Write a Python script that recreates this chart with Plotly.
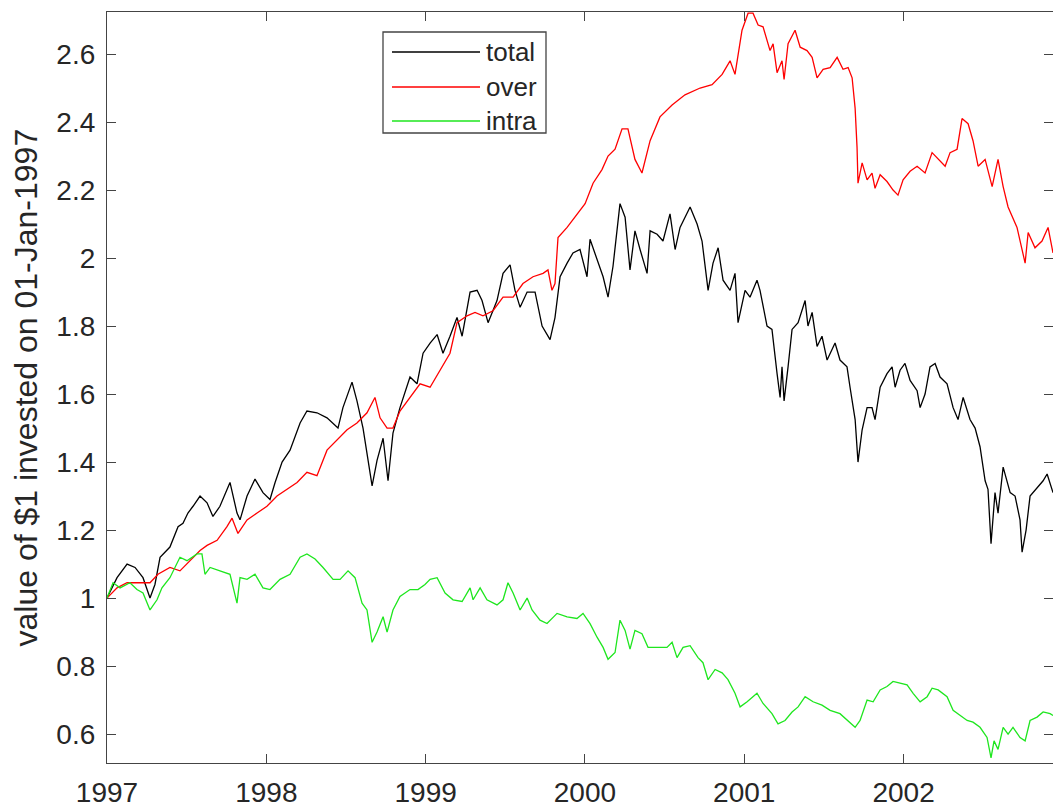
import plotly.graph_objects as go

# Growth of $1 invested on 01-Jan-1997: total, overnight and intraday returns.
# Time is given in decimal years.

total_t = [
    1997.000, 1997.063, 1997.126, 1997.176, 1997.226, 1997.270, 1997.301, 1997.333,
    1997.395, 1997.446, 1997.477, 1997.508, 1997.540, 1997.584, 1997.628, 1997.665,
    1997.709, 1997.772, 1997.816, 1997.835, 1997.879, 1997.929, 1997.979, 1998.023,
    1998.055, 1998.099, 1998.149, 1998.212, 1998.255, 1998.318, 1998.381, 1998.419,
    1998.450, 1998.481, 1998.538, 1998.569, 1998.607, 1998.664, 1998.695, 1998.733,
    1998.764, 1998.795, 1998.839, 1998.902, 1998.946, 1998.984, 1999.028, 1999.072,
    1999.109, 1999.153, 1999.197, 1999.229, 1999.279, 1999.323, 1999.354, 1999.392,
    1999.448, 1999.486, 1999.530, 1999.561, 1999.593, 1999.637, 1999.687, 1999.731,
    1999.781, 1999.812, 1999.844, 1999.888, 1999.925, 1999.969, 2000.013, 2000.032,
    2000.076, 2000.114, 2000.145, 2000.176, 2000.220, 2000.252, 2000.283, 2000.314,
    2000.346, 2000.390, 2000.409, 2000.453, 2000.490, 2000.534, 2000.566, 2000.597,
    2000.660, 2000.704, 2000.735, 2000.773, 2000.804, 2000.836, 2000.867, 2000.911,
    2000.942, 2000.961, 2001.005, 2001.036, 2001.080, 2001.099, 2001.143, 2001.174,
    2001.206, 2001.225, 2001.237, 2001.250, 2001.275, 2001.300, 2001.338, 2001.382,
    2001.400, 2001.426, 2001.457, 2001.488, 2001.520, 2001.570, 2001.601, 2001.645,
    2001.664, 2001.696, 2001.714, 2001.740, 2001.771, 2001.802, 2001.821, 2001.853,
    2001.896, 2001.928, 2001.947, 2001.978, 2002.009, 2002.041, 2002.085, 2002.104,
    2002.135, 2002.166, 2002.198, 2002.229, 2002.273, 2002.311, 2002.342, 2002.374,
    2002.417, 2002.449, 2002.480, 2002.512, 2002.530, 2002.549, 2002.574, 2002.593,
    2002.625, 2002.669, 2002.700, 2002.731, 2002.744, 2002.769, 2002.794, 2002.838,
    2002.876, 2002.901, 2002.938,
]
total_v = [
    1.00, 1.06, 1.10, 1.09, 1.06, 1.00, 1.04, 1.12,
    1.15, 1.21, 1.22, 1.25, 1.27, 1.30, 1.28, 1.24,
    1.27, 1.34, 1.25, 1.23, 1.30, 1.35, 1.31, 1.29,
    1.34, 1.40, 1.435, 1.515, 1.55, 1.545, 1.53, 1.515,
    1.50, 1.56, 1.635, 1.58, 1.50, 1.33, 1.405, 1.47,
    1.345, 1.485, 1.56, 1.65, 1.63, 1.72, 1.75, 1.775,
    1.72, 1.77, 1.825, 1.77, 1.90, 1.905, 1.875, 1.81,
    1.875, 1.955, 1.98, 1.905, 1.855, 1.90, 1.90, 1.80,
    1.76, 1.825, 1.945, 1.985, 2.015, 2.025, 1.945, 2.055,
    1.995, 1.945, 1.885, 1.975, 2.16, 2.12, 1.965, 2.08,
    2.025, 1.955, 2.08, 2.07, 2.05, 2.13, 2.025, 2.09,
    2.15, 2.10, 2.05, 1.905, 1.985, 2.03, 1.935, 1.905,
    1.955, 1.81, 1.905, 1.885, 1.935, 1.905, 1.80, 1.79,
    1.66, 1.59, 1.68, 1.58, 1.68, 1.79, 1.81, 1.875,
    1.80, 1.84, 1.74, 1.77, 1.70, 1.75, 1.70, 1.68,
    1.62, 1.525, 1.40, 1.495, 1.56, 1.56, 1.525, 1.62,
    1.66, 1.68, 1.62, 1.67, 1.69, 1.64, 1.61, 1.56,
    1.60, 1.68, 1.69, 1.65, 1.63, 1.56, 1.525, 1.59,
    1.525, 1.50, 1.445, 1.345, 1.32, 1.16, 1.31, 1.25,
    1.385, 1.31, 1.30, 1.23, 1.135, 1.20, 1.30, 1.325,
    1.345, 1.365, 1.31,
]

over_t = [
    1997.000, 1997.063, 1997.126, 1997.188, 1997.270, 1997.320, 1997.395, 1997.458,
    1997.521, 1997.584, 1997.628, 1997.691, 1997.753, 1997.785, 1997.822, 1997.879,
    1997.942, 1998.004, 1998.067, 1998.130, 1998.193, 1998.255, 1998.318, 1998.381,
    1998.444, 1998.507, 1998.569, 1998.632, 1998.682, 1998.714, 1998.758, 1998.795,
    1998.839, 1998.902, 1998.965, 1999.028, 1999.090, 1999.153, 1999.197, 1999.260,
    1999.310, 1999.360, 1999.423, 1999.486, 1999.549, 1999.611, 1999.674, 1999.737,
    1999.768, 1999.793, 1999.812, 1999.831, 1999.888, 1999.950, 2000.001, 2000.051,
    2000.107, 2000.145, 2000.189, 2000.233, 2000.270, 2000.314, 2000.358, 2000.409,
    2000.471, 2000.547, 2000.628, 2000.723, 2000.798, 2000.861, 2000.911, 2000.942,
    2000.986, 2001.024, 2001.055, 2001.087, 2001.118, 2001.162, 2001.181, 2001.206,
    2001.237, 2001.250, 2001.275, 2001.319, 2001.351, 2001.394, 2001.426, 2001.457,
    2001.495, 2001.539, 2001.583, 2001.620, 2001.652, 2001.677, 2001.696, 2001.708,
    2001.714, 2001.740, 2001.771, 2001.802, 2001.821, 2001.853, 2001.896, 2001.934,
    2001.965, 2001.997, 2002.041, 2002.085, 2002.135, 2002.179, 2002.217, 2002.261,
    2002.292, 2002.336, 2002.367, 2002.405, 2002.436, 2002.468, 2002.512, 2002.556,
    2002.593, 2002.625, 2002.656, 2002.712, 2002.763, 2002.782, 2002.825, 2002.869,
    2002.907, 2002.938,
]
over_v = [
    1.00, 1.03, 1.045, 1.045, 1.045, 1.07, 1.09, 1.08,
    1.11, 1.14, 1.155, 1.17, 1.21, 1.235, 1.19, 1.23,
    1.25, 1.27, 1.30, 1.32, 1.34, 1.37, 1.36, 1.435,
    1.465, 1.495, 1.515, 1.545, 1.59, 1.53, 1.50, 1.50,
    1.55, 1.59, 1.63, 1.62, 1.67, 1.72, 1.81, 1.83,
    1.84, 1.83, 1.845, 1.885, 1.885, 1.925, 1.945, 1.955,
    1.965, 1.905, 1.925, 2.06, 2.09, 2.13, 2.16, 2.22,
    2.26, 2.30, 2.32, 2.38, 2.38, 2.29, 2.25, 2.345,
    2.415, 2.45, 2.48, 2.50, 2.51, 2.54, 2.58, 2.54,
    2.67, 2.72, 2.72, 2.685, 2.68, 2.61, 2.63, 2.545,
    2.58, 2.525, 2.63, 2.67, 2.62, 2.61, 2.59, 2.53,
    2.555, 2.56, 2.59, 2.555, 2.56, 2.53, 2.44, 2.325,
    2.22, 2.28, 2.23, 2.25, 2.205, 2.245, 2.225, 2.20,
    2.185, 2.23, 2.255, 2.27, 2.25, 2.31, 2.29, 2.27,
    2.31, 2.32, 2.41, 2.395, 2.345, 2.27, 2.29, 2.21,
    2.29, 2.21, 2.15, 2.09, 1.985, 2.075, 2.03, 2.05,
    2.09, 2.015,
]

intra_t = [
    1997.000, 1997.038, 1997.082, 1997.144, 1997.188, 1997.226, 1997.270, 1997.314,
    1997.345, 1997.395, 1997.458, 1997.502, 1997.565, 1997.596, 1997.615, 1997.647,
    1997.709, 1997.772, 1997.816, 1997.835, 1997.879, 1997.929, 1997.979, 1998.023,
    1998.086, 1998.149, 1998.212, 1998.255, 1998.306, 1998.356, 1998.419, 1998.463,
    1998.513, 1998.557, 1998.601, 1998.632, 1998.664, 1998.695, 1998.733, 1998.758,
    1998.795, 1998.839, 1998.902, 1998.952, 1998.996, 1999.028, 1999.072, 1999.122,
    1999.172, 1999.229, 1999.279, 1999.298, 1999.342, 1999.385, 1999.448, 1999.486,
    1999.517, 1999.549, 1999.593, 1999.637, 1999.668, 1999.718, 1999.762, 1999.825,
    1999.888, 1999.950, 1999.988, 2000.032, 2000.076, 2000.114, 2000.145, 2000.189,
    2000.220, 2000.252, 2000.283, 2000.314, 2000.358, 2000.396, 2000.453, 2000.515,
    2000.547, 2000.578, 2000.616, 2000.660, 2000.710, 2000.741, 2000.773, 2000.817,
    2000.861, 2000.898, 2000.942, 2000.974, 2001.018, 2001.080, 2001.118, 2001.174,
    2001.212, 2001.256, 2001.300, 2001.338, 2001.382, 2001.432, 2001.488, 2001.539,
    2001.601, 2001.652, 2001.696, 2001.727, 2001.771, 2001.809, 2001.853, 2001.896,
    2001.934, 2001.978, 2002.022, 2002.060, 2002.104, 2002.148, 2002.179, 2002.217,
    2002.273, 2002.311, 2002.355, 2002.399, 2002.436, 2002.480, 2002.524, 2002.549,
    2002.568, 2002.593, 2002.625, 2002.656, 2002.687, 2002.731, 2002.763, 2002.794,
    2002.838, 2002.876, 2002.920, 2002.938,
]
intra_v = [
    1.00, 1.045, 1.03, 1.045, 1.025, 1.015, 0.965, 0.995,
    1.03, 1.06, 1.12, 1.11, 1.13, 1.13, 1.07, 1.09,
    1.08, 1.07, 0.985, 1.06, 1.055, 1.07, 1.03, 1.025,
    1.055, 1.07, 1.12, 1.13, 1.115, 1.09, 1.055, 1.055,
    1.08, 1.06, 0.985, 0.965, 0.87, 0.90, 0.945, 0.90,
    0.965, 1.005, 1.025, 1.025, 1.04, 1.055, 1.06, 1.015,
    0.995, 0.99, 1.03, 0.995, 1.03, 0.995, 0.98, 0.995,
    1.045, 1.015, 0.965, 1.00, 0.965, 0.935, 0.925, 0.955,
    0.945, 0.94, 0.955, 0.925, 0.885, 0.855, 0.82, 0.84,
    0.935, 0.905, 0.85, 0.905, 0.895, 0.855, 0.855, 0.855,
    0.87, 0.825, 0.855, 0.86, 0.825, 0.81, 0.76, 0.79,
    0.78, 0.76, 0.72, 0.68, 0.695, 0.72, 0.69, 0.66,
    0.63, 0.64, 0.665, 0.68, 0.71, 0.695, 0.685, 0.67,
    0.66, 0.64, 0.62, 0.64, 0.70, 0.695, 0.73, 0.74,
    0.755, 0.75, 0.745, 0.72, 0.695, 0.71, 0.735, 0.73,
    0.71, 0.67, 0.655, 0.64, 0.635, 0.62, 0.59, 0.53,
    0.58, 0.555, 0.62, 0.60, 0.62, 0.59, 0.58, 0.64,
    0.65, 0.665, 0.66, 0.655,
]

series_names = ["total", "over", "intra"]
series_colors = ["#000000", "#ff0000", "#1ee61e"]

year_ticks = [1997, 1998, 1999, 2000, 2001, 2002]
year_labels = ["1997", "1998", "1999", "2000", "2001", "2002"]
value_ticks = [0.6, 0.8, 1.0, 1.2, 1.4, 1.6, 1.8, 2.0, 2.2, 2.4, 2.6]
value_labels = ["0.6", "0.8", "1", "1.2", "1.4", "1.6", "1.8", "2", "2.2", "2.4", "2.6"]

FONT = "Liberation Sans, Arial, Helvetica, sans-serif"
INK = "#262626"
AXIS = "#444444"

fig = go.Figure()
for t, v, name, color in zip(
    [total_t, over_t, intra_t],
    [total_v, over_v, intra_v],
    series_names,
    series_colors,
):
    fig.add_trace(
        go.Scatter(
            x=t, y=v, mode="lines", name=name,
            line=dict(color=color, width=1.3),
            showlegend=False,
        )
    )

axis_common = dict(
    showline=True, linecolor=AXIS, linewidth=1.3, mirror="ticks",
    ticks="inside", ticklen=9, tickwidth=1.3, tickcolor=AXIS,
    showgrid=False, zeroline=False,
    tickfont=dict(family=FONT, size=28, color=INK),
)

fig.update_layout(
    width=1053, height=810,
    margin=dict(l=107, r=0, t=12, b=47),
    paper_bgcolor="white", plot_bgcolor="white",
    xaxis=dict(range=[1997.0, 2002.938], tickvals=year_ticks, ticktext=year_labels,
               ticklabelstandoff=4, **axis_common),
    yaxis=dict(range=[0.515, 2.7235], tickvals=value_ticks, ticktext=value_labels,
               ticklabelstandoff=5, **axis_common),
    showlegend=False,
)

# Y-axis label
fig.add_annotation(
    text="value of $1 invested on 01-Jan-1997",
    xref="paper", yref="paper", x=-82 / 946, y=0.5,
    xanchor="center", yanchor="middle", textangle=-90, showarrow=False,
    font=dict(family=FONT, size=32, color=INK),
)

# Boxed legend with long line samples
box_x0, box_x1 = (383 - 107) / 946, (546 - 107) / 946
box_y0, box_y1 = (763 - 133) / 751, (763 - 32) / 751
fig.add_shape(type="rect", xref="paper", yref="paper",
              x0=box_x0, x1=box_x1, y0=box_y0, y1=box_y1,
              line=dict(color=AXIS, width=1.3), fillcolor="white", layer="above")
row_px = [52, 87, 121]
for name, color, ry in zip(series_names, series_colors, row_px):
    yy = (763 - ry) / 751
    fig.add_shape(type="line", xref="paper", yref="paper",
                  x0=(392 - 107) / 946, x1=(480 - 107) / 946, y0=yy, y1=yy,
                  line=dict(color=color, width=1.3), layer="above")
    fig.add_annotation(text=name, xref="paper", yref="paper",
                       x=(484 - 107) / 946, y=yy, xanchor="left", yanchor="middle",
                       showarrow=False, font=dict(family=FONT, size=26, color=INK))

fig.write_html("out.html")
